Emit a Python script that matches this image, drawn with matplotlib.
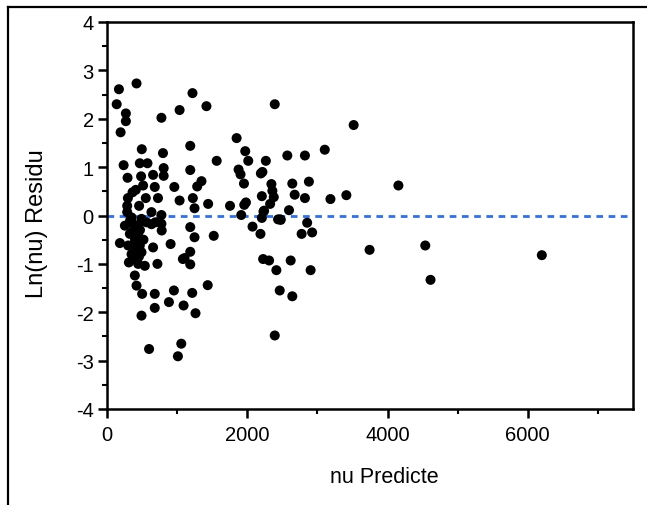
import matplotlib
matplotlib.use("Agg")
import matplotlib.pyplot as plt
from matplotlib.ticker import MultipleLocator
from matplotlib.lines import Line2D

plt.rcParams['font.family'] = ['Liberation Sans', 'DejaVu Sans']
plt.rcParams['axes.unicode_minus'] = False

x_label = "nu Predicte"
y_label = "Ln(nu) Residu"
x_ticks = [0, 2000, 4000, 6000]
y_ticks = [-4, -3, -2, -1, 0, 1, 2, 3, 4]

predicted = [
    170, 421, 138, 269, 269, 194, 776, 1035, 1219, 1418, 2392, 1848, 1971, 2014,
    2265, 2571, 2642, 2676, 2595, 2472, 2439, 496, 798, 237, 468, 577, 1187, 1187,
    808, 808, 1564, 293, 486, 657, 681, 515, 411, 364, 298, 553, 727, 960, 1035,
    1347, 1286, 1224, 1248, 1442, 1754, 1876, 1904, 1953, 1981, 1957, 1914, 2208,
    2194, 2216, 2344, 2358, 2378, 2326, 2231, 2208, 2075, 2188, 288, 288, 458, 634,
    776, 776, 780, 690, 563, 1187, 1248, 1522, 350, 492,
    184, 326, 444, 302, 468, 350, 492, 312, 444, 539, 657, 719, 907, 1082, 397,
    421, 501, 681, 954, 255, 444, 634,
    492, 681, 600, 883, 1092, 1059, 1011, 1187, 1106, 1187, 1215, 1262, 1436,
    2226, 2311, 2415, 2619, 2463, 2642, 2392, 2240, 2477,
    3517, 2822, 3105, 2879, 2822, 3186, 3413, 4155, 2854, 2775, 2925,
    3744, 4538, 4613, 2903, 6200,
    400, 380, 420, 360, 470, 520, 400, 330, 380, 455,
]
residual = [
    2.61, 2.73, 2.30, 2.11, 1.95, 1.72, 2.02, 2.18, 2.53, 2.26, 2.30, 1.60, 1.33, 1.13,
    1.13, 1.24, 0.66, 0.43, 0.11, -0.08, -0.08, 1.37, 1.29, 1.04, 1.08, 1.08, 1.44, 0.94,
    0.98, 0.82, 1.13, 0.78, 0.81, 0.84, 0.59, 0.62, 0.53, 0.48, 0.36, 0.36, 0.36, 0.59, 0.31,
    0.71, 0.60, 0.36, 0.15, 0.24, 0.20, 0.95, 0.85, 0.66, 0.27, 0.22, 0.01, 0.40,
    0.87, 0.90, 0.65, 0.51, 0.38, 0.24, 0.08, -0.05, -0.23, -0.38, 0.20, 0.07, 0.20, 0.07,
    0.01, -0.17, -0.31, -0.14, -0.14, -0.24, -0.45, -0.42, -0.04, -0.07,
    -0.57, -0.38, -0.42, -0.62, -0.62, -0.80, -0.76, -0.97, -1.00, -1.04, -0.66, -1.00,
    -0.59, -0.90, -1.24, -1.45, -1.62, -1.62, -1.55, -0.21, -0.21, -0.18,
    -2.07, -1.91, -2.76, -1.79, -1.86, -2.65, -2.91, -0.75, -0.88, -1.01, -1.60, -2.02, -1.44,
    -0.90, -0.93, -1.13, -0.93, -1.55, -1.67, -2.48, 0.10, -0.09,
    1.87, 1.24, 1.36, 0.70, 0.36, 0.34, 0.42, 0.62, -0.15, -0.38, -0.35,
    -0.71, -0.62, -1.33, -1.13, -0.82,
    -0.50, -0.30, -0.70, -0.15, -0.30, -0.50, -0.90, -0.10, -0.60, -0.85,
]

fig = plt.figure(figsize=(6.47, 5.06), dpi=100)
ax = fig.add_axes([107/647, 1-410/506, (633-107)/647, (410-23)/506])

ax.scatter(predicted, residual, s=52, color='black', edgecolors='none', zorder=3)
ax.axhline(0, color='#2f6ff0', lw=2.0, linestyle=(0, (2.4, 2.0)), zorder=2)

ax.set_xlim(0, 7500)
ax.set_ylim(-4, 4)
ax.set_xticks(x_ticks)
ax.set_yticks(y_ticks)
ax.xaxis.set_minor_locator(MultipleLocator(1000))
ax.yaxis.set_minor_locator(MultipleLocator(0.5))

for sp in ax.spines.values():
    sp.set_linewidth(1.8)
ax.tick_params(which='major', direction='out', length=6.5, width=1.8, labelsize=14.5)
ax.tick_params(axis='x', which='major', pad=5)
ax.tick_params(axis='y', which='major', pad=3)
ax.tick_params(which='minor', direction='out', length=3.6, width=1.5)

ax.set_xlabel(x_label, fontsize=15.5)
ax.xaxis.set_label_coords((384-107)/526, -(478-410)/387)
ax.xaxis.label.set_va('center')
ax.set_ylabel(y_label, fontsize=17)
ax.yaxis.set_label_coords(-(107-37)/526, (410-224)/387)
ax.yaxis.label.set_va('center')

# outer frame lines (left and top)
fig.add_artist(Line2D([8/647, 8/647], [0, 1-8/506], transform=fig.transFigure, color='black', lw=1.6))
fig.add_artist(Line2D([8/647, 1], [1-8/506, 1-8/506], transform=fig.transFigure, color='black', lw=1.6))

fig.savefig("out.png", dpi=100)
